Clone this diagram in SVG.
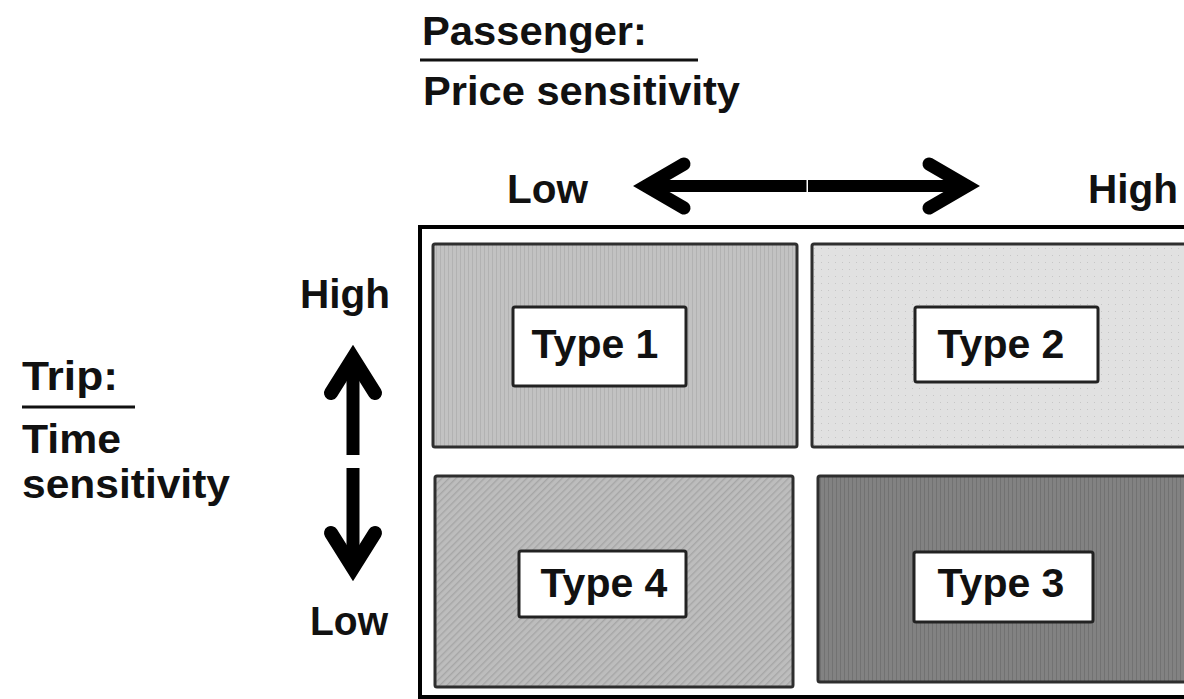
<svg xmlns="http://www.w3.org/2000/svg" width="1184" height="699" viewBox="0 0 1184 699">
  <style>
    .t { font-family: "Liberation Sans", Arial, Helvetica, sans-serif; font-weight: bold; fill: #111; }
    .cell { stroke: #2e2e2e; stroke-width: 3; }
    .tag { fill: #fff; stroke: #222; stroke-width: 3; }
    .rule { stroke: #111; stroke-width: 3; }
    .shaft { stroke: #000; fill: none; }
    .head { stroke: #000; fill: none; stroke-linecap: round; stroke-linejoin: miter; stroke-miterlimit: 6; }
  </style>
  <defs>
    <pattern id="vlines" width="4" height="4" patternUnits="userSpaceOnUse">
      <rect width="4" height="4" fill="#c2c2c2"/>
      <rect x="0" width="1" height="4" fill="#b2b2b2"/>
    </pattern>
    <pattern id="dots" width="7" height="7" patternUnits="userSpaceOnUse">
      <rect width="7" height="7" fill="#e1e1e1"/>
      <rect x="2" y="3" width="1" height="1" fill="#c6c6c6"/>
    </pattern>
    <pattern id="hatch" width="5" height="5" patternUnits="userSpaceOnUse" patternTransform="rotate(45)">
      <rect width="5" height="5" fill="#bdbdbd"/>
      <rect x="0" width="1.4" height="5" fill="#a6a6a6"/>
    </pattern>
    <pattern id="darklines" width="4" height="4" patternUnits="userSpaceOnUse">
      <rect width="4" height="4" fill="#828282"/>
      <rect x="0" width="1" height="4" fill="#727272"/>
    </pattern>
  </defs>

  <rect width="1184" height="699" fill="#fff"/>

  <!-- axis titles -->
  <g id="passenger-title">
    <text class="t" x="422" y="45" font-size="41" textLength="225" lengthAdjust="spacingAndGlyphs">Passenger:</text>
    <line class="rule" x1="420" y1="60" x2="698" y2="60"/>
    <text class="t" x="423" y="105" font-size="41" textLength="317" lengthAdjust="spacingAndGlyphs">Price sensitivity</text>
  </g>
  <g id="trip-title">
    <text class="t" x="22" y="390" font-size="40" textLength="96" lengthAdjust="spacingAndGlyphs">Trip:</text>
    <line class="rule" x1="22" y1="407" x2="135" y2="407"/>
    <text class="t" x="22" y="453" font-size="40" textLength="99" lengthAdjust="spacingAndGlyphs">Time</text>
    <text class="t" x="22" y="498" font-size="40" textLength="208" lengthAdjust="spacingAndGlyphs">sensitivity</text>
  </g>

  <!-- scale end labels -->
  <g id="scale-labels">
    <text class="t" x="507" y="203" font-size="40" textLength="81" lengthAdjust="spacingAndGlyphs">Low</text>
    <text class="t" x="1088" y="203" font-size="40" textLength="90" lengthAdjust="spacingAndGlyphs">High</text>
    <text class="t" x="300" y="308" font-size="40" textLength="90" lengthAdjust="spacingAndGlyphs">High</text>
    <text class="t" x="310" y="635" font-size="40" textLength="78" lengthAdjust="spacingAndGlyphs">Low</text>
  </g>

  <!-- double-headed scale arrows -->
  <g id="connectors">
    <line class="shaft" x1="806.5" y1="186" x2="652" y2="186" stroke-width="12"/>
    <polyline class="head" points="684,164 646,186 684,208" stroke-width="13"/>
    <line class="shaft" x1="808" y1="186" x2="962" y2="186" stroke-width="12"/>
    <polyline class="head" points="929,164 967,186 929,208" stroke-width="13"/>

    <line class="shaft" x1="353" y1="455" x2="353" y2="364" stroke-width="13"/>
    <polyline class="head" points="331,393 353,358 375,393" stroke-width="14"/>
    <line class="shaft" x1="353" y1="468" x2="353" y2="562" stroke-width="13"/>
    <polyline class="head" points="331,533 353,568 375,533" stroke-width="14"/>
  </g>

  <!-- matrix frame -->
  <g id="frame">
    <rect x="420" y="227" width="800" height="470" fill="#fff" stroke="#000" stroke-width="4"/>
  </g>

  <!-- quadrants -->
  <g id="type1">
    <rect class="cell" x="433" y="244" width="364" height="203" rx="2" fill="url(#vlines)"/>
    <rect class="tag" x="513" y="307" width="173" height="79" rx="2"/>
    <text class="t" x="595" y="358" font-size="41" text-anchor="middle">Type 1</text>
  </g>
  <g id="type2">
    <rect class="cell" x="812" y="244" width="400" height="203" rx="2" fill="url(#dots)"/>
    <rect class="tag" x="915" y="307" width="183" height="75" rx="2"/>
    <text class="t" x="1001" y="358" font-size="41" text-anchor="middle">Type 2</text>
  </g>
  <g id="type4">
    <rect class="cell" x="435" y="476" width="358" height="211" rx="2" fill="url(#hatch)"/>
    <rect class="tag" x="519" y="551" width="167" height="66" rx="2"/>
    <text class="t" x="604" y="597" font-size="41" text-anchor="middle">Type 4</text>
  </g>
  <g id="type3">
    <rect class="cell" x="818" y="476" width="400" height="206" rx="2" fill="url(#darklines)"/>
    <rect class="tag" x="914" y="552" width="179" height="70" rx="2"/>
    <text class="t" x="1001" y="597" font-size="41" text-anchor="middle">Type 3</text>
  </g>
</svg>
